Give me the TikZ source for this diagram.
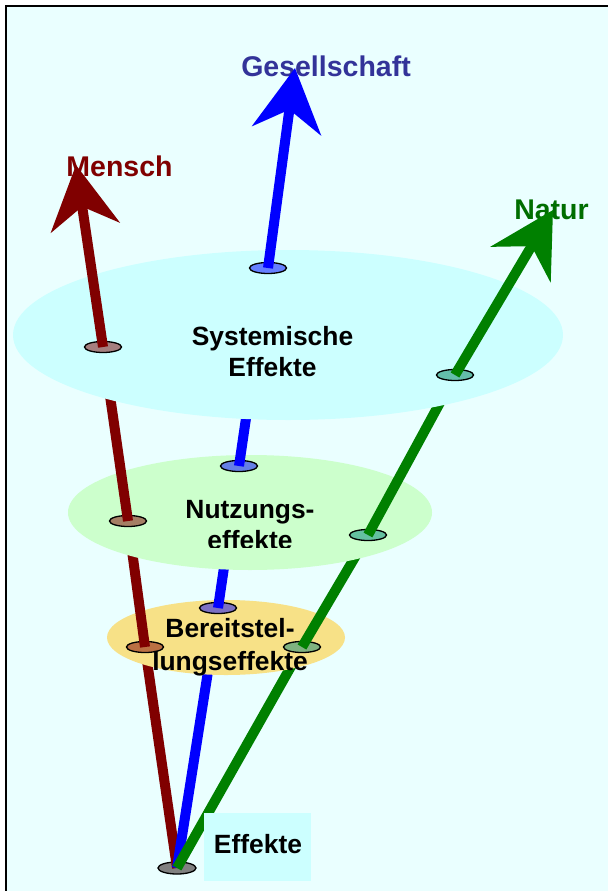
\documentclass[tikz,border=0pt]{standalone}
\usepackage{fontspec}
\setmainfont{Liberation Sans}
\usetikzlibrary{arrows.meta,shapes.geometric}
\definecolor{bgc}{RGB}{234,255,255}
\definecolor{sysc}{RGB}{204,255,255}
\definecolor{nutzc}{RGB}{204,255,204}
\definecolor{bereitc}{RGB}{247,225,135}
\definecolor{menschc}{RGB}{128,0,0}
\definecolor{gesc}{RGB}{0,0,255}
\definecolor{gestxt}{RGB}{51,51,153}
\definecolor{naturc}{RGB}{0,128,0}
\definecolor{naturtxt}{RGB}{0,110,0}
\definecolor{gmS}{RGB}{100,190,170}
\definecolor{gmN}{RGB}{100,192,160}
\definecolor{gmY}{RGB}{128,178,128}
\begin{document}
\begin{tikzpicture}[x=1pt,y=-1pt,
  seg/.style={line width=10pt},
  arr/.style={line width=10pt,-{Stealth[length=63pt,width=69pt,inset=21pt]}},
  mk/.style={ellipse,draw=black,line width=1.3pt,minimum width=37pt,minimum height=11pt,inner sep=0pt,fill opacity=0.5},
  blob/.style={ellipse,draw=none,inner sep=0pt},
  lbl/.style={anchor=base,inner sep=0pt,font=\bfseries\fontsize{26.4}{30}\selectfont},
  clbl/.style={anchor=base,inner sep=0pt,font=\bfseries\fontsize{28.5}{32}\selectfont}]
\useasboundingbox (0,0) rectangle (608,891);
\fill[white] (0,0) rectangle (608,891);
\fill[bgc] (6,6) rectangle (608,891);
\draw[line width=2pt] (6,891) -- (6,6) -- (608,6);

% positions
\coordinate (base) at (177,868);
\coordinate (rY) at (145,647);
\coordinate (rN) at (128,521);
\coordinate (rS) at (103,347);
\coordinate (rT) at (76,165);
\coordinate (bY) at (218,608);
\coordinate (bN) at (239,466);
\coordinate (bS) at (268,268);
\coordinate (bT) at (295,68);
\coordinate (gY) at (302,647);
\coordinate (gN) at (368,535);
\coordinate (gS) at (455,375);
\coordinate (gT) at (553,210);

% labels of the arrows (under the arrow heads)
\node[clbl,text=menschc] (lm) at (119.5,176.5) {Mensch};
\node[clbl,text=gestxt] (lg) at (326,76) {Gesellschaft};
\node[clbl,text=naturtxt] (ln) at (551.5,219) {Natur};

% base
\node[mk,fill=black!50,fill opacity=1,minimum width=38pt,minimum height=12pt] (bm) at (base) {};
\draw[seg,menschc] (base) -- (rY);
\draw[seg,gesc] (base) -- (bY);
\draw[seg,naturc] (base) -- (gY);

% Bereitstellungseffekte
\node[blob,fill=bereitc,minimum width=238pt,minimum height=75pt] (bereit) at (226,637.5) {};
\node[mk,fill=menschc] (rYm) at (rY) {};
\node[mk,fill=gesc] (bYm) at (bY) {};
\node[mk,fill=gmY,fill opacity=1] (gYm) at (gY) {};
\draw[seg,menschc] (rY) -- (rN);
\draw[seg,gesc] (bY) -- (bN);
\draw[seg,naturc] (gY) -- (gN);

% Nutzungseffekte
\node[blob,fill=nutzc,minimum width=364pt,minimum height=115pt] (nutz) at (250,512.5) {};
\node[mk,fill=menschc] (rNm) at (rN) {};
\node[mk,fill=gesc] (bNm) at (bN) {};
\node[mk,fill=gmN,fill opacity=1] (gNm) at (gN) {};
\draw[seg,menschc] (rN) -- (rS);
\draw[seg,gesc] (bN) -- (bS);
\draw[seg,naturc] (gN) -- (gS);

% Systemische Effekte
\node[blob,fill=sysc,minimum width=550pt,minimum height=170pt] (sys) at (288,335) {};
\node[mk,fill=menschc] (rSm) at (rS) {};
\node[mk,fill=gesc] (bSm) at (bS) {};
\node[mk,fill=gmS,fill opacity=1] (gSm) at (gS) {};
\draw[arr,menschc] (rS) -- (rT);
\draw[arr,gesc] (bS) -- (bT);
\draw[arr,naturc] (gS) -- (gT);

% Effekte box
\node[fill=sysc,draw=none,minimum width=107pt,minimum height=68pt,inner sep=0pt] (eff) at (257.5,847) {};

% texts
\node[lbl] (t1) at (272.5,345) {Systemische};
\node[lbl] (t2) at (272.5,376) {Effekte};
\node[lbl] (t3) at (250,518) {Nutzungs-};
\begin{scope}
\clip (120,525) rectangle (380,547);
\node[lbl] (t4) at (250,549) {effekte};
\end{scope}
\node[lbl] (t5) at (230,637) {Bereitstel-};
\node[lbl] (t6) at (230,670) {lungseffekte};
\node[lbl] (t7) at (258,853) {Effekte};
\end{tikzpicture}
\end{document}
